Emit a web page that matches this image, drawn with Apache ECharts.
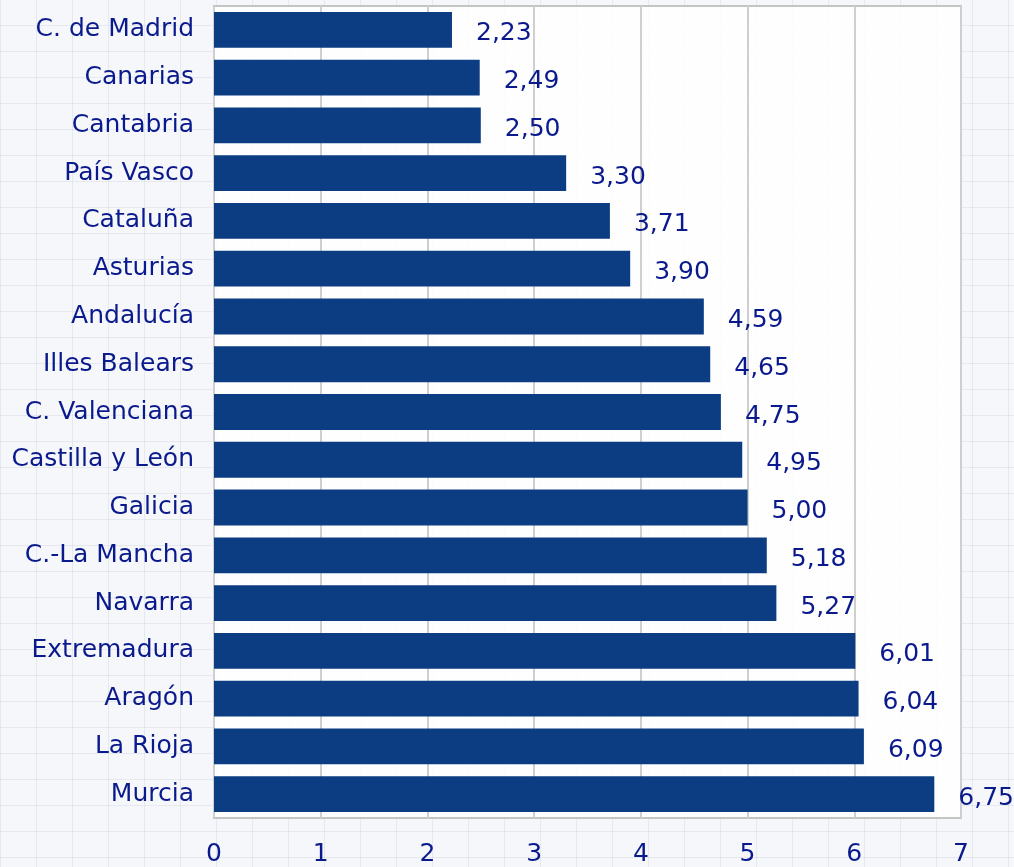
<!DOCTYPE html>
<html>
<head>
<meta charset="utf-8">
<script src="https://cdn.jsdelivr.net/npm/echarts@6/dist/echarts.min.js"></script>
<style>
  html, body { margin: 0; padding: 0; }
  body {
    background-color: #f6f7fb;
    background-image:
      linear-gradient(90deg, rgba(200,205,220,0.35) 1px, transparent 1px),
      linear-gradient(0deg, rgba(200,205,220,0.35) 1px, transparent 1px);
    background-size: 36px 26px;
  }
  #chart { width: 1014px; height: 867px; }
</style>
</head>
<body>
<div id="chart"></div>
<script>
// comunidades, de arriba abajo
const regions = ['C. de Madrid', 'Canarias', 'Cantabria', 'País Vasco', 'Cataluña', 'Asturias',
  'Andalucía', 'Illes Balears', 'C. Valenciana', 'Castilla y León', 'Galicia', 'C.-La Mancha',
  'Navarra', 'Extremadura', 'Aragón', 'La Rioja', 'Murcia'];
const values = [2.23, 2.49, 2.50, 3.30, 3.71, 3.90, 4.59, 4.65, 4.75, 4.95, 5.00, 5.18,
  5.27, 6.01, 6.04, 6.09, 6.75];
const xTicks = [0, 1, 2, 3, 4, 5, 6, 7];

const navy = '#0a1a8c';
const font = 'Tahoma, "DejaVu Sans", sans-serif';

let chart = echarts.init(document.getElementById('chart'));
chart.setOption({
  backgroundColor: 'transparent',
  grid: {
    left: 214, right: 53, top: 6, bottom: 47,
    show: true,
    backgroundColor: 'rgba(255,255,255,0.85)',
    borderColor: '#c4c4c4',
    borderWidth: 2
  },
  xAxis: {
    type: 'value',
    min: xTicks[0],
    max: xTicks[xTicks.length - 1],
    interval: 1,
    axisLine: { show: false },
    axisTick: { show: false },
    splitLine: { show: true, lineStyle: { color: '#cfcfcf', width: 2 } },
    axisLabel: { color: navy, fontSize: 25, fontFamily: font, margin: 24 }
  },
  yAxis: {
    type: 'category',
    inverse: true,
    data: regions,
    axisLine: { show: false },
    axisTick: { show: false },
    axisLabel: { color: navy, fontSize: 25, fontFamily: font, margin: 20, padding: [10, 0, 0, 0] }
  },
  series: [{
    type: 'bar',
    data: values,
    barCategoryGap: '25%',
    itemStyle: { color: '#0c3c82' },
    label: {
      show: true,
      position: 'right',
      distance: 24,
      offset: [0, 4],
      color: navy,
      fontSize: 25,
      fontFamily: font,
      formatter: p => p.value.toFixed(2).replace('.', ',')
    },
    silent: true
  }]
});
</script>
</body>
</html>
